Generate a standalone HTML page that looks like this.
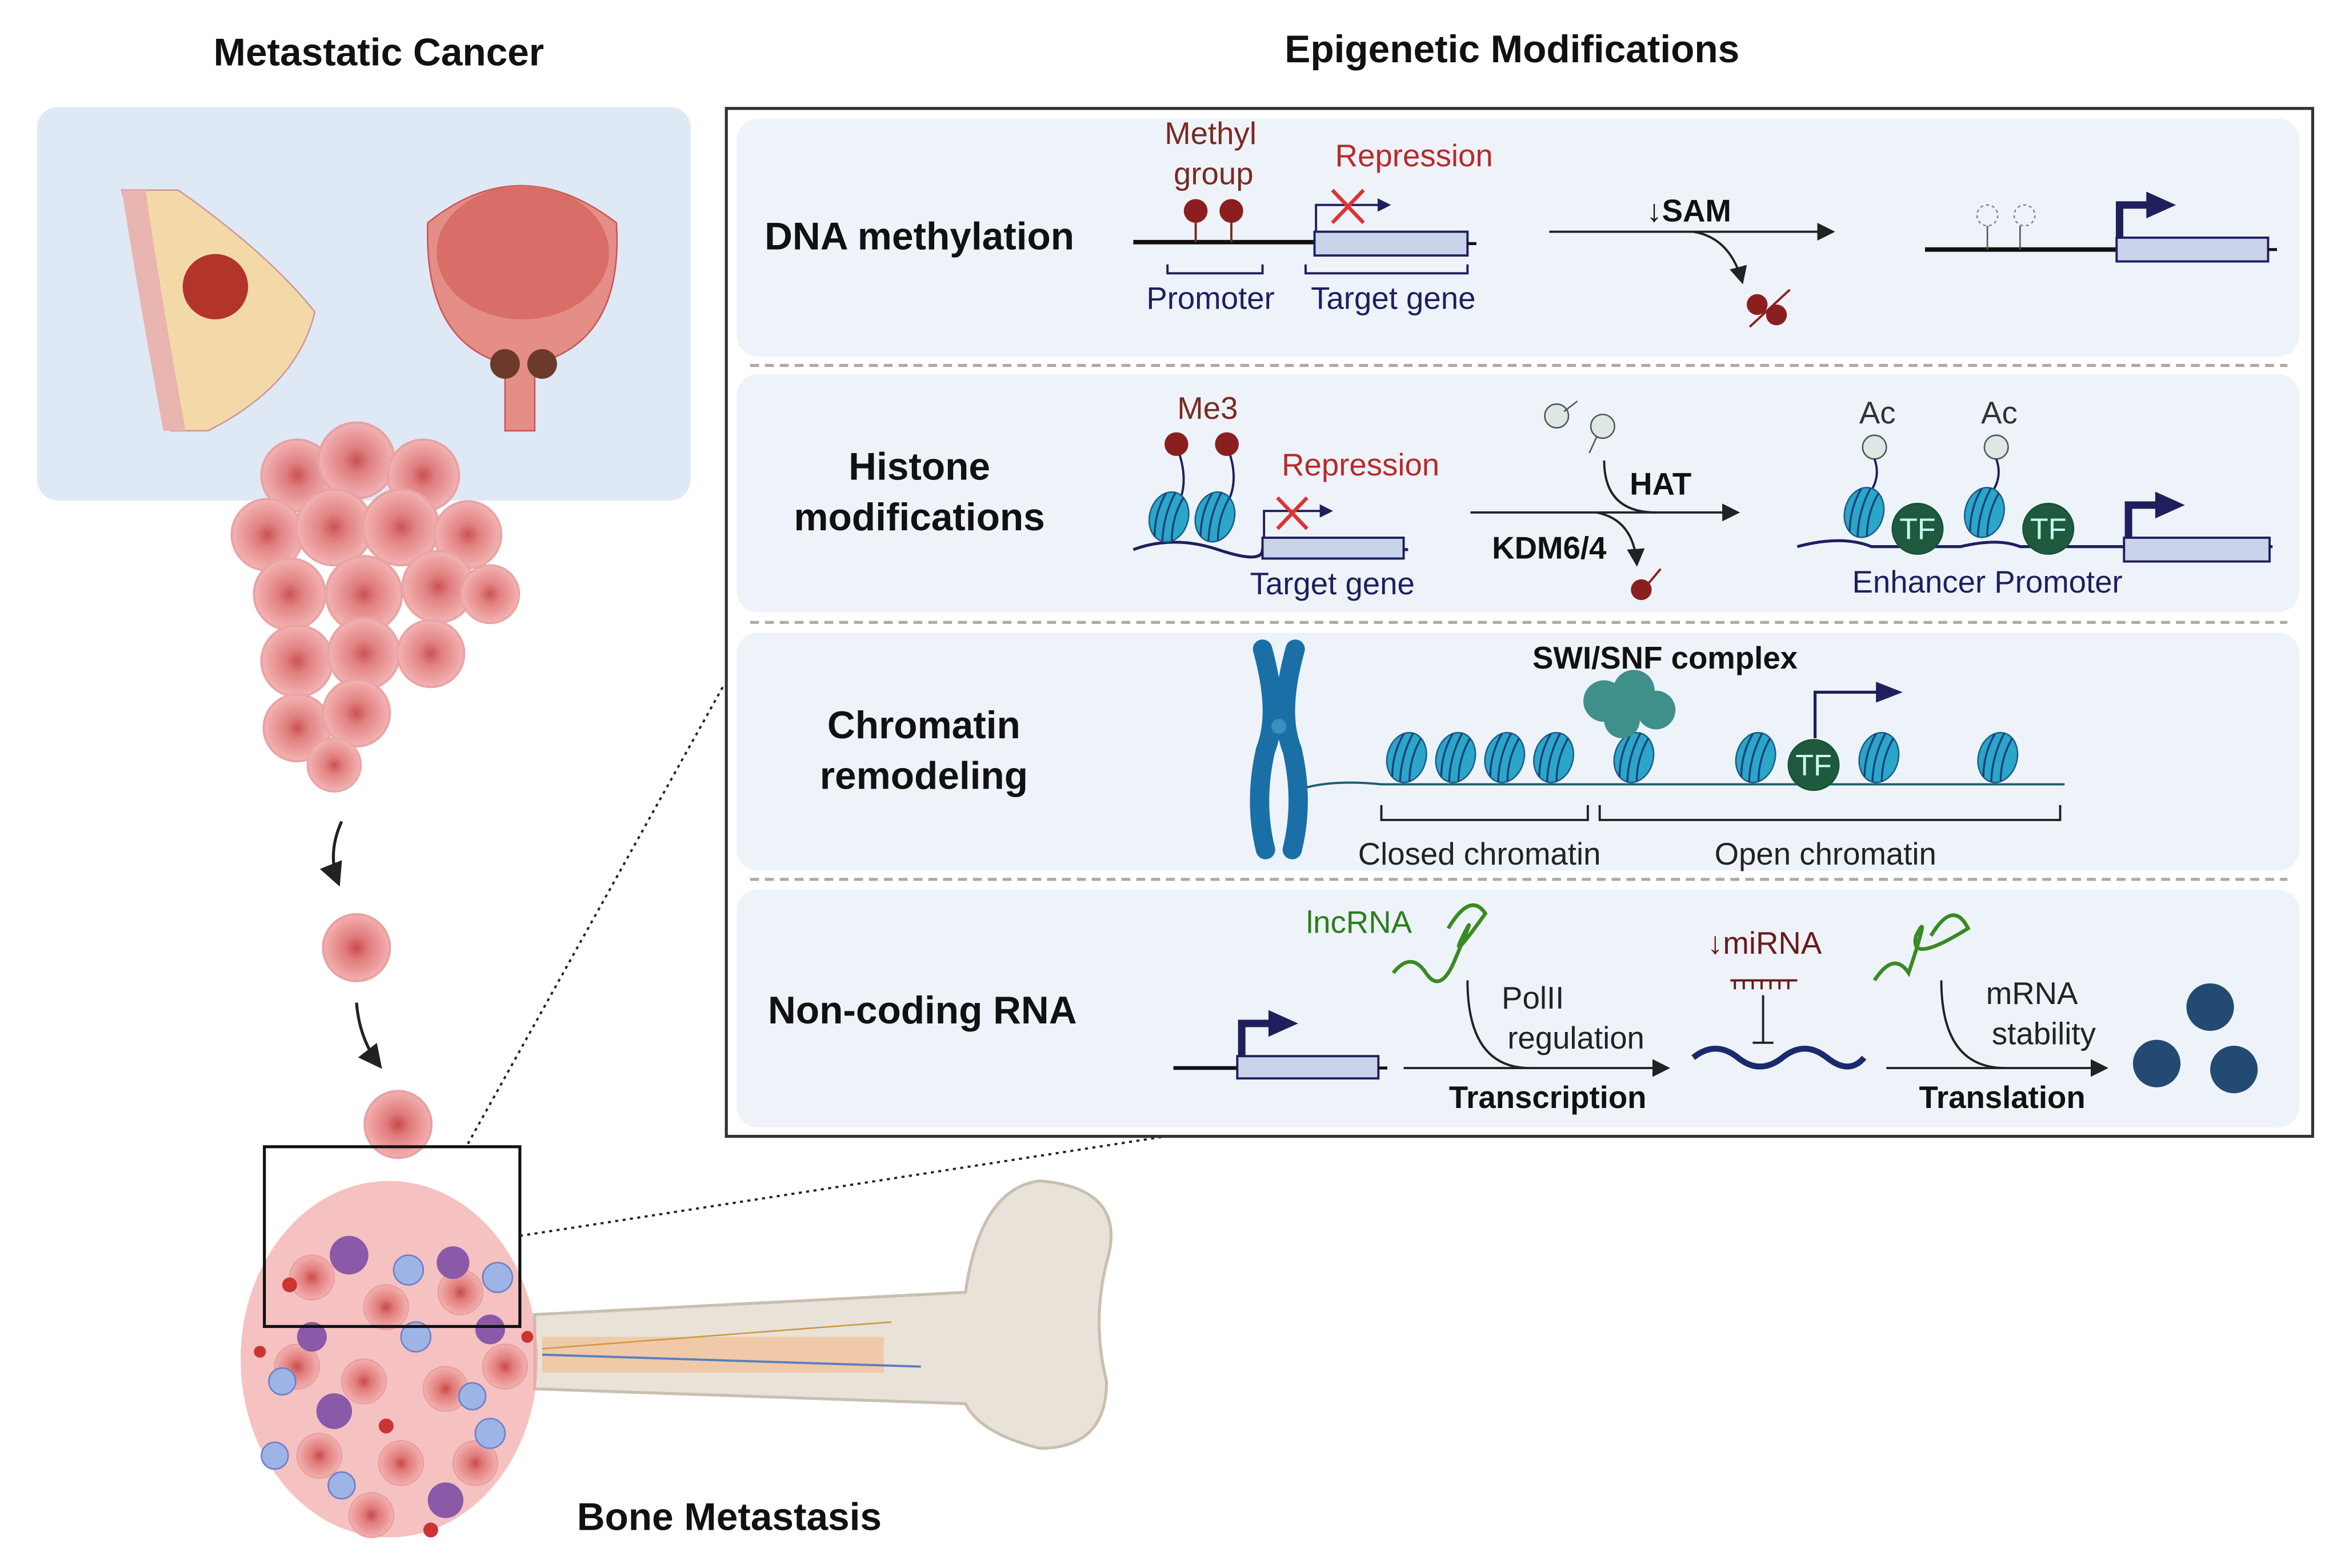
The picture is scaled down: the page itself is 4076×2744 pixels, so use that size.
<!DOCTYPE html>
<html><head><meta charset="utf-8"><style>html,body{margin:0;padding:0;background:#fff}svg{display:block}</style></head>
<body>
<svg width="4076" height="2744" viewBox="0 0 1568 1055.6" preserveAspectRatio="none" xmlns="http://www.w3.org/2000/svg" font-family="Liberation Sans, sans-serif">
<defs>
<marker id="ah" markerWidth="8" markerHeight="8" refX="7" refY="4" orient="auto"><path d="M0,0 L8,4 L0,8 z" fill="#222"/></marker>
<marker id="ab" markerWidth="6" markerHeight="6" refX="5" refY="3" orient="auto"><path d="M0,0 L6,3 L0,6 z" fill="#1f1f5e"/></marker>
<radialGradient id="cell"><stop offset="0" stop-color="#c94a4a"/><stop offset="0.35" stop-color="#e07b7b"/><stop offset="1" stop-color="#f4b0b0"/></radialGradient>
<g id="c"><circle r="15" fill="url(#cell)" stroke="#e8a0a0"/></g>
<g id="nuc"><ellipse rx="13" ry="17" fill="#2aa6c8" stroke="#1c5f8a"/><path d="M-6,-15 Q-10,0 -6,15 M0,-17 Q-4,0 0,17 M6,-15 Q2,0 6,15" stroke="#1c3f7a" fill="none" stroke-width="1.3"/></g>
<g id="tf"><circle r="17" fill="#1f5a3f" stroke="#153"/><text y="7" text-anchor="middle" font-size="20" fill="#cfe">TF</text></g>
<g id="tss"><path d="M0,0 V-22 H20" stroke="#1f1f5e" stroke-width="5" fill="none"/><path d="M18,-31 L38,-22 L18,-13z" fill="#1f1f5e"/></g>
</defs>
<rect width="1568" height="1056" fill="#fff"/>
<text x="255" y="44" text-anchor="middle" font-size="26" font-weight="bold" fill="#111">Metastatic Cancer</text>
<text x="1018" y="42" text-anchor="middle" font-size="26" font-weight="bold" fill="#111">Epigenetic Modifications</text>
<rect x="25" y="72" width="440" height="265" rx="14" fill="#dfe9f6"/>
<path d="M82,128 Q100,200 115,290 L140,290 Q200,260 212,210 Q180,170 120,128z" fill="#f3d9a8" stroke="#c99"/>
<path d="M82,128 Q95,210 110,290 L125,290 Q110,210 98,128z" fill="#e8b5b0"/>
<circle cx="145" cy="193" r="22" fill="#b3342a"/>
<path d="M288,150 Q350,100 415,150 Q420,230 360,245 L360,290 L340,290 L340,245 Q285,230 288,150z" fill="#e58e88" stroke="#c55"/>
<ellipse cx="352" cy="170" rx="58" ry="45" fill="#d86e67"/>
<circle cx="340" cy="245" r="10" fill="#6b3a2a"/><circle cx="365" cy="245" r="10" fill="#6b3a2a"/>
<g opacity="0.95">
<use href="#c" transform="translate(200,320) scale(1.6)"/><use href="#c" transform="translate(240,310) scale(1.7)"/><use href="#c" transform="translate(285,320) scale(1.6)"/>
<use href="#c" transform="translate(180,360) scale(1.6)"/><use href="#c" transform="translate(225,355) scale(1.7)"/><use href="#c" transform="translate(270,355) scale(1.7)"/><use href="#c" transform="translate(315,360) scale(1.5)"/>
<use href="#c" transform="translate(195,400) scale(1.6)"/><use href="#c" transform="translate(245,400) scale(1.7)"/><use href="#c" transform="translate(295,395) scale(1.6)"/><use href="#c" transform="translate(330,400) scale(1.3)"/>
<use href="#c" transform="translate(200,445) scale(1.6)"/><use href="#c" transform="translate(245,440) scale(1.6)"/><use href="#c" transform="translate(290,440) scale(1.5)"/>
<use href="#c" transform="translate(200,490) scale(1.5)"/><use href="#c" transform="translate(240,480) scale(1.5)"/><use href="#c" transform="translate(225,515) scale(1.2)"/>
</g>
<path d="M230,553 Q220,575 228,595" stroke="#222" stroke-width="2" fill="none" marker-end="url(#ah)"/>
<use href="#c" transform="translate(240,638) scale(1.5)"/>
<path d="M240,675 Q242,700 256,718" stroke="#222" stroke-width="2" fill="none" marker-end="url(#ah)"/>
<use href="#c" transform="translate(268,757) scale(1.5)"/>
<path d="M360,885 L650,870 Q660,800 700,795 Q760,800 745,850 Q735,890 745,930 Q745,975 700,975 Q660,965 650,945 L360,935z" fill="#e8e2d8" stroke="#c9bfb1" stroke-width="2"/>
<rect x="365" y="900" width="230" height="24" fill="#f0c9a8"/>
<path d="M365,912 L620,920" stroke="#5a7fc0" stroke-width="1.5"/><path d="M365,908 L600,890" stroke="#c94" stroke-width="1"/>
<ellipse cx="262" cy="915" rx="100" ry="120" fill="#f2a6a6" opacity="0.7"/>
<g>
<use href="#c" transform="translate(210,860)"/><use href="#c" transform="translate(260,880)"/><use href="#c" transform="translate(310,870)"/><use href="#c" transform="translate(200,920)"/><use href="#c" transform="translate(245,930)"/><use href="#c" transform="translate(300,935)"/><use href="#c" transform="translate(340,920)"/><use href="#c" transform="translate(215,980)"/><use href="#c" transform="translate(270,985)"/><use href="#c" transform="translate(320,985)"/><use href="#c" transform="translate(250,1020)"/>
</g>
<g fill="#8a5aa8"><circle cx="235" cy="845" r="13"/><circle cx="305" cy="850" r="11"/><circle cx="210" cy="900" r="10"/><circle cx="225" cy="950" r="12"/><circle cx="300" cy="1010" r="12"/><circle cx="330" cy="895" r="10"/></g>
<g fill="#9fb4e6" stroke="#6a80c8"><circle cx="275" cy="855" r="10"/><circle cx="335" cy="860" r="10"/><circle cx="190" cy="930" r="9"/><circle cx="318" cy="940" r="9"/><circle cx="185" cy="980" r="9"/><circle cx="230" cy="1000" r="9"/><circle cx="330" cy="965" r="10"/><circle cx="280" cy="900" r="10"/></g>
<g fill="#cc3333"><circle cx="195" cy="865" r="5"/><circle cx="260" cy="960" r="5"/><circle cx="355" cy="900" r="4"/><circle cx="175" cy="910" r="4"/><circle cx="290" cy="1030" r="5"/></g>
<rect x="178" y="772" width="172" height="121" fill="none" stroke="#111" stroke-width="2"/>
<path d="M315,770 L488,460" stroke="#222" stroke-width="1.5" stroke-dasharray="2,3"/>
<path d="M350,832 L785,765" stroke="#222" stroke-width="1.5" stroke-dasharray="2,3"/>
<text x="491" y="1030" text-anchor="middle" font-size="26" font-weight="bold" fill="#111">Bone Metastasis</text>
<rect x="489" y="73" width="1068" height="692" fill="#fff" stroke="#333" stroke-width="2"/>
<rect x="496" y="80" width="1052" height="160" rx="14" fill="#eef3fa"/>
<rect x="496" y="252" width="1052" height="160" rx="14" fill="#eef3fa"/>
<rect x="496" y="426" width="1052" height="160" rx="14" fill="#eef3fa"/>
<rect x="496" y="599" width="1052" height="160" rx="14" fill="#eef3fa"/>
<g stroke="#aaa" stroke-width="2" stroke-dasharray="6,4"><path d="M505,246 H1540"/><path d="M505,419 H1540"/><path d="M505,592 H1540"/></g>
<g font-size="26" font-weight="bold" fill="#111" text-anchor="middle">
<text x="619" y="168">DNA methylation</text>
<text x="619" y="323">Histone</text><text x="619" y="357">modifications</text>
<text x="622" y="497">Chromatin</text><text x="622" y="531">remodeling</text>
<text x="621" y="689">Non-coding RNA</text>
</g>
<text x="815" y="97" text-anchor="middle" font-size="21" fill="#7a2a22">Methyl</text>
<text x="817" y="124" text-anchor="middle" font-size="21" fill="#7a2a22">group</text>
<text x="952" y="112" text-anchor="middle" font-size="21" fill="#b82a2a">Repression</text>
<path d="M763,163 H885" stroke="#111" stroke-width="3"/>
<path d="M805,163 V148 M829,163 V148" stroke="#7a2a22" stroke-width="1.5"/>
<circle cx="805" cy="142" r="8" fill="#8b1f1f"/><circle cx="829" cy="142" r="8" fill="#8b1f1f"/>
<rect x="885" y="156" width="103" height="16" fill="#c9d3ea" stroke="#1f1f5e" stroke-width="1.5"/><path d="M988,164 H994" stroke="#111" stroke-width="2"/>
<path d="M886,156 V138 H935" stroke="#1f1f5e" stroke-width="1.5" fill="none" marker-end="url(#ab)"/>
<path d="M897,128 L918,150 M918,128 L897,150" stroke="#d33" stroke-width="2.5"/>
<path d="M786,178 V184 H850 V178 M879,178 V184 H988 V178" stroke="#1f1f5e" stroke-width="1.5" fill="none"/>
<text x="815" y="208" text-anchor="middle" font-size="21" fill="#1f1f5e">Promoter</text>
<text x="938" y="208" text-anchor="middle" font-size="21" fill="#1f1f5e">Target gene</text>
<text x="1137" y="149" text-anchor="middle" font-size="21" font-weight="bold" fill="#111">↓SAM</text>
<path d="M1043,156 H1234" stroke="#222" stroke-width="1.5" marker-end="url(#ah)"/>
<path d="M1140,156 Q1165,160 1173,190" stroke="#222" stroke-width="1.5" fill="none" marker-end="url(#ah)"/>
<circle cx="1183" cy="205" r="7" fill="#8b1f1f"/><circle cx="1196" cy="212" r="7" fill="#8b1f1f"/><path d="M1178,220 L1205,195" stroke="#8b1f1f" stroke-width="1.5"/>
<path d="M1296,168 H1425" stroke="#111" stroke-width="3"/>
<path d="M1338,168 V152 M1360,168 V152" stroke="#555"/>
<circle cx="1338" cy="145" r="7" fill="none" stroke="#888" stroke-dasharray="2,2"/><circle cx="1363" cy="145" r="7" fill="none" stroke="#888" stroke-dasharray="2,2"/>
<rect x="1425" y="160" width="102" height="16" fill="#c9d3ea" stroke="#1f1f5e" stroke-width="1.5"/><path d="M1527,168 H1533" stroke="#111" stroke-width="2"/>
<use href="#tss" transform="translate(1427,160)"/>
<text x="813" y="282" text-anchor="middle" font-size="21" fill="#7a2a22">Me3</text>
<path d="M763,370 Q790,360 820,370 T850,370 H948" stroke="#1f1f5e" stroke-width="2" fill="none"/>
<path d="M792,300 Q800,320 795,335 M826,300 Q834,320 828,335" stroke="#1f1f5e" stroke-width="1.5" fill="none"/>
<circle cx="792" cy="299" r="8" fill="#8b1f1f"/><circle cx="826" cy="299" r="8" fill="#8b1f1f"/>
<use href="#nuc" transform="translate(787,348) rotate(15)"/><use href="#nuc" transform="translate(818,348) rotate(15)"/>
<text x="916" y="320" text-anchor="middle" font-size="21" fill="#b82a2a">Repression</text>
<rect x="850" y="362" width="95" height="14" fill="#c9d3ea" stroke="#1f1f5e" stroke-width="1.5"/>
<path d="M851,362 V344 H896" stroke="#1f1f5e" stroke-width="1.5" fill="none" marker-end="url(#ab)"/>
<path d="M860,335 L880,356 M880,335 L860,356" stroke="#d33" stroke-width="2.5"/>
<text x="897" y="400" text-anchor="middle" font-size="21" fill="#1f1f5e">Target gene</text>
<circle cx="1048" cy="280" r="8" fill="#dde7e4" stroke="#555"/><circle cx="1079" cy="287" r="8" fill="#dde7e4" stroke="#555"/><path d="M1053,277 L1062,270 M1075,294 L1070,305" stroke="#555"/>
<path d="M990,345 H1170" stroke="#222" stroke-width="1.5" marker-end="url(#ah)"/>
<path d="M1080,310 Q1080,345 1115,345" stroke="#222" stroke-width="1.5" fill="none"/>
<path d="M1075,345 Q1100,350 1102,380" stroke="#222" stroke-width="1.5" fill="none" marker-end="url(#ah)"/>
<text x="1118" y="333" text-anchor="middle" font-size="21" font-weight="bold" fill="#111">HAT</text>
<text x="1043" y="376" text-anchor="middle" font-size="21" font-weight="bold" fill="#111">KDM6/4</text>
<circle cx="1105" cy="397" r="7" fill="#8b1f1f"/><path d="M1108,395 L1118,383" stroke="#8b1f1f" stroke-width="1.5"/>
<path d="M1210,368 Q1240,360 1260,368 H1320 Q1345,362 1360,368 H1530" stroke="#1f1f5e" stroke-width="2" fill="none"/>
<text x="1264" y="285" text-anchor="middle" font-size="21" fill="#333">Ac</text><text x="1346" y="285" text-anchor="middle" font-size="21" fill="#333">Ac</text>
<circle cx="1262" cy="301" r="8" fill="#dde7e4" stroke="#555"/><circle cx="1344" cy="301" r="8" fill="#dde7e4" stroke="#555"/>
<path d="M1262,309 Q1266,320 1260,330 M1344,309 Q1348,320 1342,330" stroke="#1f1f5e" stroke-width="1.5" fill="none"/>
<use href="#nuc" transform="translate(1255,345) rotate(15)"/><use href="#nuc" transform="translate(1336,345) rotate(15)"/>
<use href="#tf" transform="translate(1291,356)"/><use href="#tf" transform="translate(1379,356)"/>
<rect x="1430" y="362" width="98" height="16" fill="#c9d3ea" stroke="#1f1f5e" stroke-width="1.5"/>
<use href="#tss" transform="translate(1433,362)"/>
<text x="1338" y="399" text-anchor="middle" font-size="21" fill="#1f1f5e">Enhancer Promoter</text>
<path d="M850,437 Q862,480 852,505 Q844,540 852,572 M872,437 Q860,480 870,505 Q878,540 870,572" stroke="#1a6fa6" stroke-width="13" stroke-linecap="round" fill="none"/>
<circle cx="861" cy="489" r="5" fill="#3a8fbf"/>
<path d="M880,530 Q900,525 930,528 H1390" stroke="#1f5f6e" stroke-width="1.5" fill="none"/>
<use href="#nuc" transform="translate(947,510) rotate(15)"/><use href="#nuc" transform="translate(980,510) rotate(15)"/><use href="#nuc" transform="translate(1013,510) rotate(15)"/><use href="#nuc" transform="translate(1046,510) rotate(15)"/><use href="#nuc" transform="translate(1100,510) rotate(15)"/><use href="#nuc" transform="translate(1182,510) rotate(15)"/><use href="#nuc" transform="translate(1265,510) rotate(15)"/><use href="#nuc" transform="translate(1345,510) rotate(15)"/>
<g fill="#3f8f8a"><circle cx="1080" cy="472" r="14"/><circle cx="1100" cy="465" r="14"/><circle cx="1115" cy="478" r="13"/><circle cx="1092" cy="485" r="12"/></g>
<use href="#tf" transform="translate(1221,515)"/>
<path d="M1222,497 V466 H1265" stroke="#1f1f5e" stroke-width="2" fill="none"/><path d="M1263,459 L1281,466 L1263,473z" fill="#1f1f5e"/>
<text x="1121" y="450" text-anchor="middle" font-size="21" font-weight="bold" fill="#111">SWI/SNF complex</text>
<path d="M930,542 V552 H1069 V542 M1077,542 V552 H1387 V542" stroke="#222" stroke-width="1.5" fill="none"/>
<text x="996" y="582" text-anchor="middle" font-size="21" fill="#222">Closed chromatin</text>
<text x="1229" y="582" text-anchor="middle" font-size="21" fill="#222">Open chromatin</text>
<path d="M790,719 H833" stroke="#111" stroke-width="2.5"/>
<rect x="833" y="711" width="95" height="15" fill="#c9d3ea" stroke="#1f1f5e" stroke-width="1.5"/><path d="M928,719 H934" stroke="#111" stroke-width="2"/>
<use href="#tss" transform="translate(836,711)"/>
<text x="915" y="628" text-anchor="middle" font-size="21" fill="#2e7d1e">lncRNA</text>
<path d="M938,655 Q950,640 960,655 T980,645 Q995,610 985,630 Q975,650 1000,615 Q990,600 975,625" stroke="#3a8a22" stroke-width="2.5" fill="none"/>
<path d="M945,719 H1123" stroke="#222" stroke-width="1.5" marker-end="url(#ah)"/>
<path d="M988,660 Q988,719 1030,719" stroke="#222" stroke-width="1.5" fill="none"/>
<text x="1032" y="679" text-anchor="middle" font-size="21" fill="#222">PolII</text>
<text x="1061" y="706" text-anchor="middle" font-size="21" fill="#222">regulation</text>
<text x="1042" y="746" text-anchor="middle" font-size="21" font-weight="bold" fill="#111">Transcription</text>
<text x="1188" y="642" text-anchor="middle" font-size="21" fill="#6a1a1a">↓miRNA</text>
<path d="M1165,660 H1210 M1168,660 V666 M1174,660 V666 M1180,660 V666 M1186,660 V666 M1192,660 V666 M1198,660 V666 M1204,660 V666" stroke="#6a1a1a" stroke-width="1.5"/>
<path d="M1187,670 V702 M1180,702 H1194" stroke="#222" stroke-width="1.5"/>
<path d="M1140,712 Q1155,700 1170,712 T1200,712 T1230,712 T1255,712" stroke="#1a2a6e" stroke-width="4" fill="none"/>
<path d="M1262,660 Q1275,640 1285,655 Q1300,610 1290,630 Q1285,650 1325,625 Q1315,605 1300,630" stroke="#3a8a22" stroke-width="2.5" fill="none"/>
<path d="M1270,719 H1418" stroke="#222" stroke-width="1.5" marker-end="url(#ah)"/>
<path d="M1307,660 Q1307,719 1350,719" stroke="#222" stroke-width="1.5" fill="none"/>
<text x="1368" y="676" text-anchor="middle" font-size="21" fill="#222">mRNA</text>
<text x="1376" y="703" text-anchor="middle" font-size="21" fill="#222">stability</text>
<text x="1348" y="746" text-anchor="middle" font-size="21" font-weight="bold" fill="#111">Translation</text>
<g fill="#234a72"><circle cx="1488" cy="678" r="16"/><circle cx="1452" cy="716" r="16"/><circle cx="1504" cy="720" r="16"/></g>
</svg>
</body></html>
